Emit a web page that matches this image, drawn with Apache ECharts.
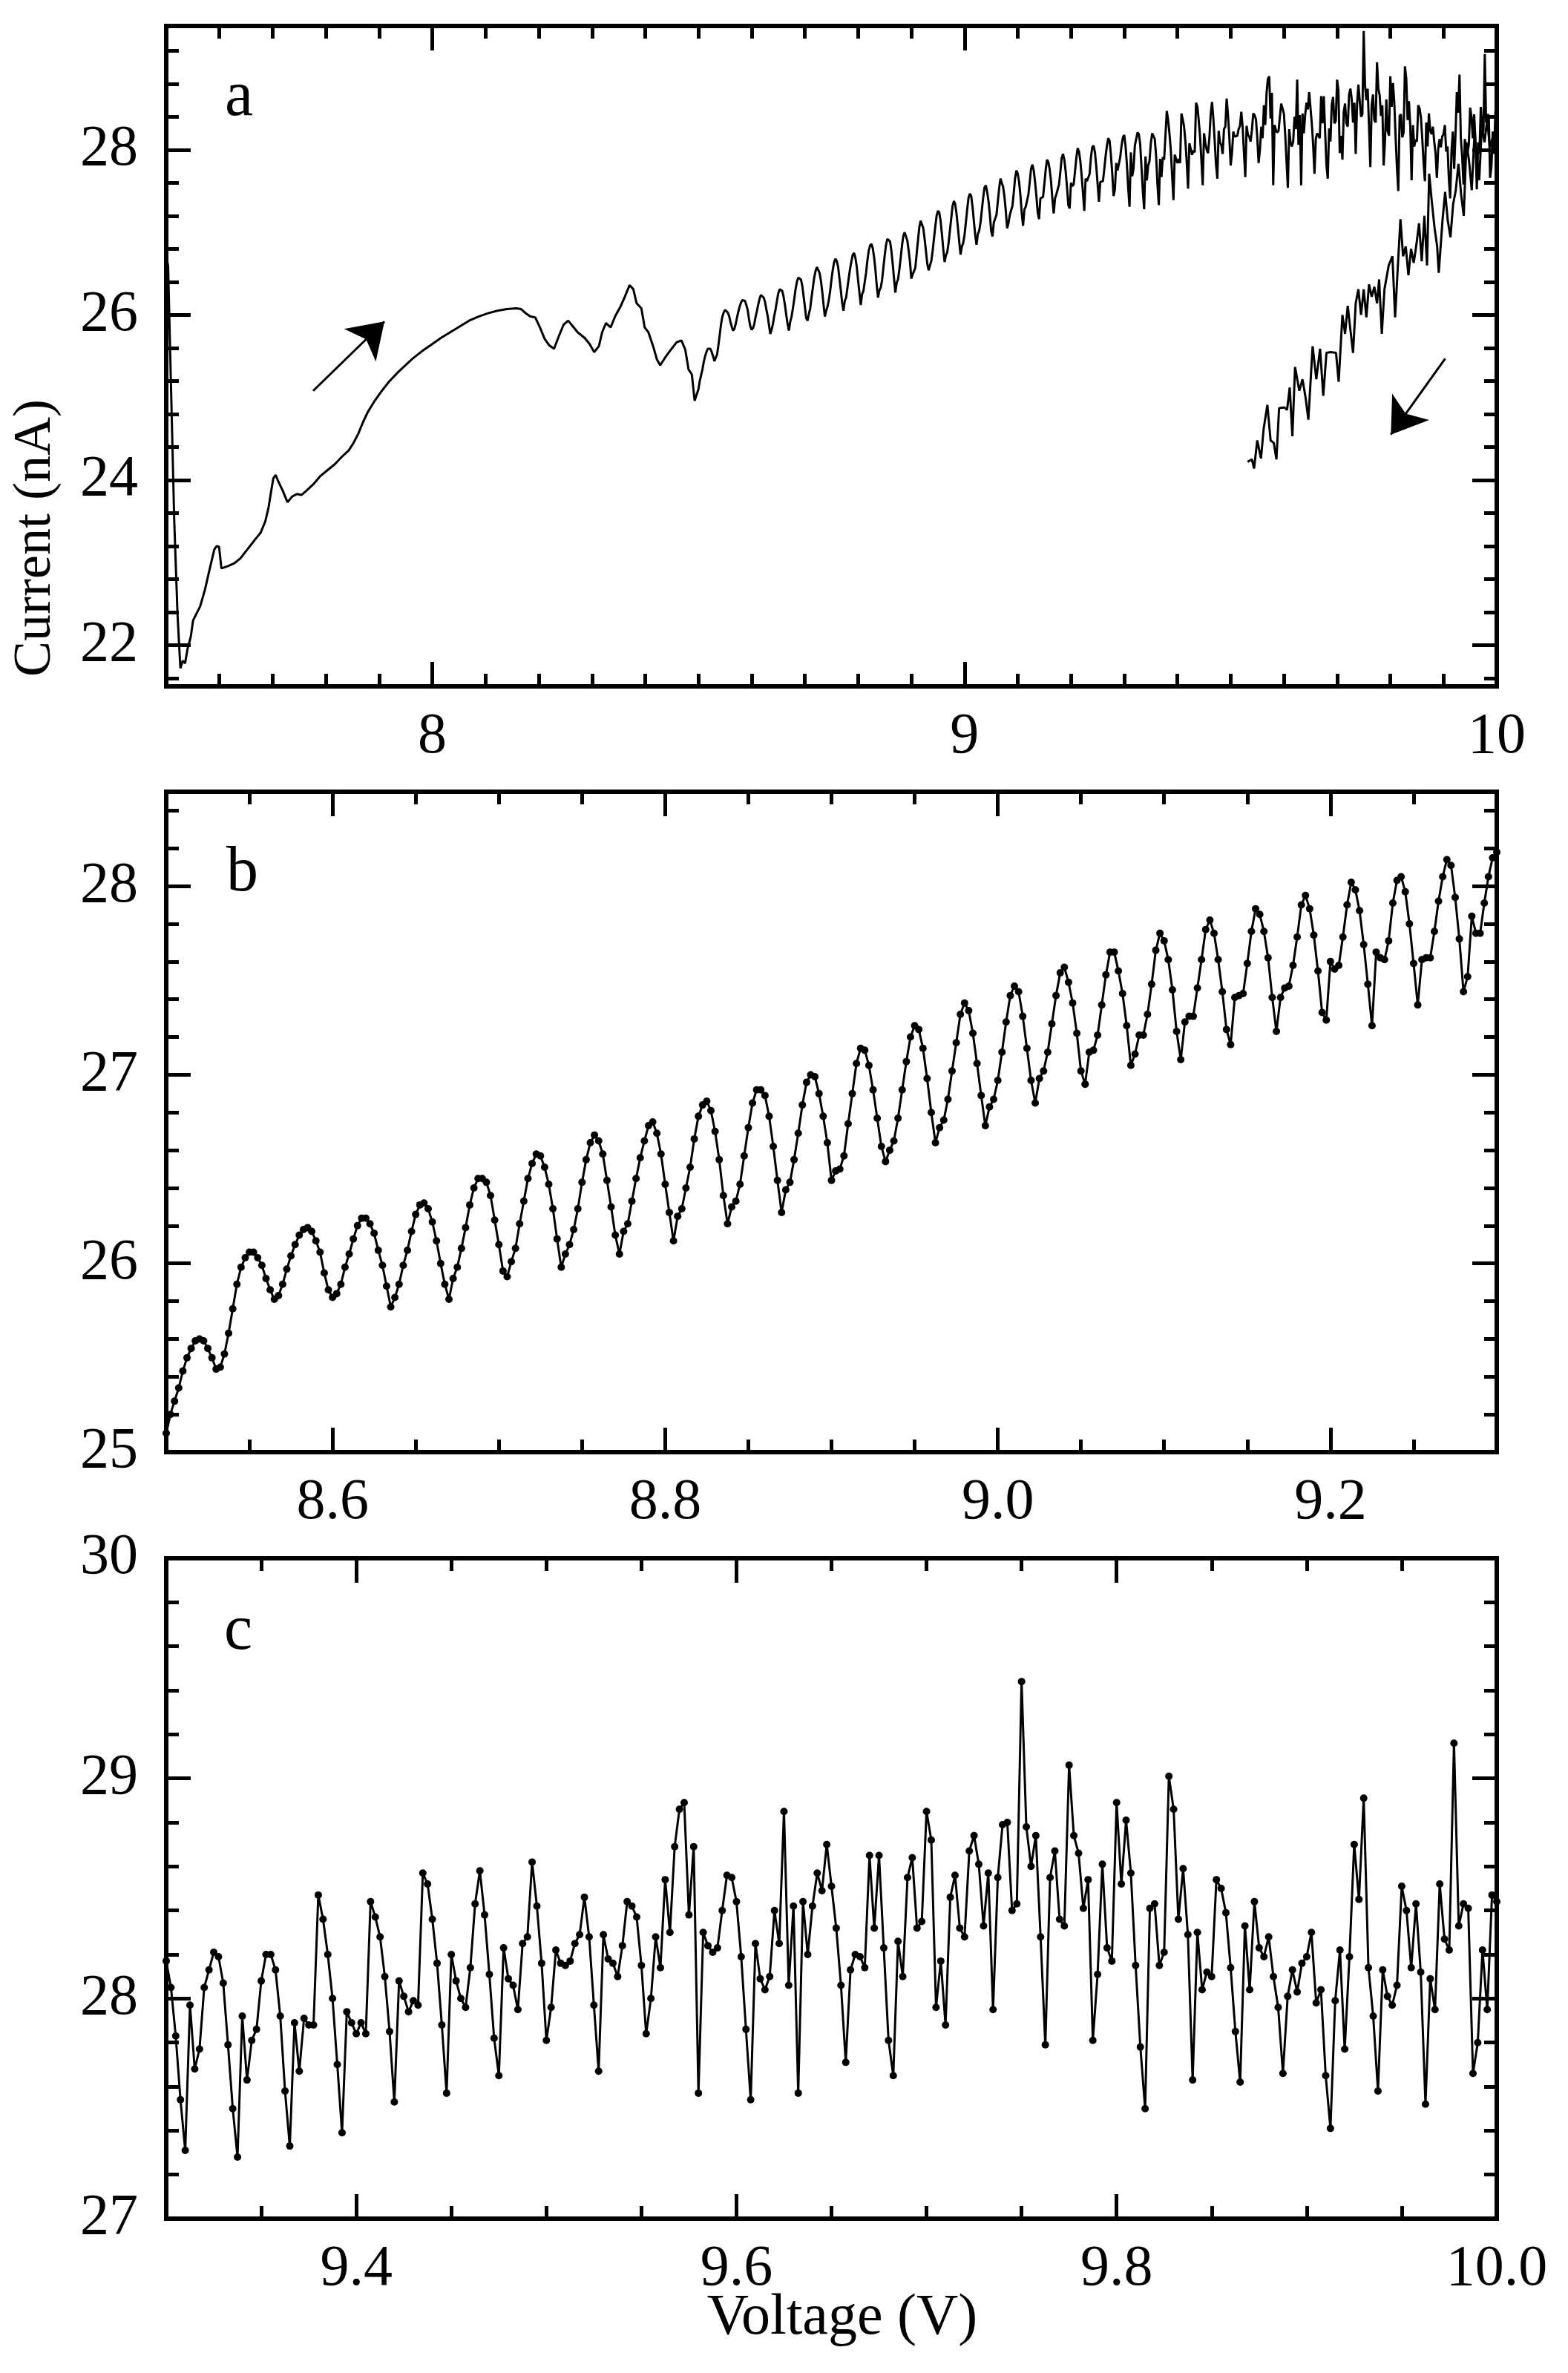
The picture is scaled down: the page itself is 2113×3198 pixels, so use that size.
<!DOCTYPE html>
<html>
<head>
<meta charset="utf-8">
<script src="https://cdn.jsdelivr.net/npm/echarts@6/dist/echarts.min.js"></script>
<style>
  html, body { margin: 0; padding: 0; background: #fff; }
  #chart { width: 2113px; height: 3198px; }
</style>
</head>
<body>
<div id="chart"></div>
<script>
// ====== Data ======
// panel a, up-sweep below 8.5 V: [voltage, current]
var aLowSweep = [
  [7.5000, 26.70], [7.5035, 26.60], [7.5151, 23.50], [7.5213, 22.36], [7.5266, 21.72],
  [7.5310, 21.81], [7.5355, 21.78], [7.5399, 21.95], [7.5461, 22.10], [7.5505, 22.30],
  [7.5567, 22.38], [7.5638, 22.47], [7.5727, 22.67], [7.5798, 22.87], [7.5860, 23.04],
  [7.5904, 23.16], [7.5949, 23.20], [7.5993, 23.19], [7.6037, 22.93], [7.6082, 22.94],
  [7.6170, 22.96], [7.6277, 22.99], [7.6392, 23.05], [7.6525, 23.16], [7.6658, 23.27],
  [7.6773, 23.36], [7.6862, 23.50], [7.6924, 23.67], [7.6968, 23.85], [7.7012, 24.02],
  [7.7057, 24.06], [7.7101, 23.99], [7.7190, 23.87], [7.7278, 23.73], [7.7367, 23.80],
  [7.7456, 23.83], [7.7544, 23.82], [7.7633, 23.87], [7.7766, 23.95], [7.7899, 24.05],
  [7.8032, 24.12], [7.8165, 24.19], [7.8298, 24.28], [7.8431, 24.36], [7.8520, 24.45],
  [7.8608, 24.56], [7.8697, 24.70], [7.8785, 24.82], [7.8918, 24.96], [7.9051, 25.08],
  [7.9184, 25.19], [7.9362, 25.31], [7.9495, 25.39], [7.9628, 25.47], [7.9805, 25.56],
  [7.9982, 25.64], [8.0160, 25.72], [8.0337, 25.79], [8.0514, 25.86], [8.0691, 25.93],
  [8.0869, 25.98], [8.1046, 26.02], [8.1223, 26.05], [8.1401, 26.07], [8.1578, 26.08],
  [8.1667, 26.07], [8.1755, 26.02], [8.1844, 25.98], [8.1933, 25.97], [8.2021, 25.85],
  [8.2110, 25.71], [8.2199, 25.63], [8.2287, 25.59], [8.2376, 25.74], [8.2465, 25.88],
  [8.2553, 25.93], [8.2642, 25.86], [8.2730, 25.79], [8.2863, 25.72], [8.2952, 25.65],
  [8.3041, 25.55], [8.3129, 25.62], [8.3191, 25.79], [8.3262, 25.90], [8.3351, 25.85],
  [8.3440, 25.99], [8.3528, 26.09], [8.3617, 26.22], [8.3706, 26.36], [8.3777, 26.31],
  [8.3839, 26.14], [8.3928, 26.08], [8.3989, 25.85], [8.4060, 25.79], [8.4149, 25.62],
  [8.4220, 25.46], [8.4282, 25.39], [8.4371, 25.48], [8.4459, 25.56], [8.4592, 25.67],
  [8.4681, 25.69], [8.4752, 25.58], [8.4814, 25.34], [8.4876, 25.28], [8.4929, 24.96]
];

// panel a, down-sweep (lower branch near 10 V): [voltage, current]
var aReturnSweep = [
  [9.532, 24.22], [9.540, 24.25], [9.544, 24.14], [9.550, 24.48], [9.557, 24.26],
  [9.562, 24.62], [9.569, 24.91], [9.575, 24.48], [9.581, 24.45], [9.586, 24.25],
  [9.591, 24.87], [9.601, 24.88], [9.606, 24.85], [9.611, 25.12], [9.616, 24.53],
  [9.621, 25.37], [9.629, 25.08], [9.635, 25.22], [9.641, 24.99], [9.646, 24.73],
  [9.654, 25.62], [9.661, 25.22], [9.668, 25.59], [9.674, 25.02], [9.680, 25.54],
  [9.688, 25.55], [9.698, 25.54], [9.703, 25.19], [9.710, 26.00], [9.715, 25.77],
  [9.720, 26.11], [9.725, 25.82], [9.730, 25.54], [9.735, 26.14], [9.740, 26.31],
  [9.745, 26.00], [9.750, 26.31], [9.755, 25.97], [9.760, 26.37], [9.765, 26.22],
  [9.770, 26.34], [9.775, 26.14], [9.779, 26.43], [9.784, 25.77], [9.789, 26.31],
  [9.797, 26.60], [9.804, 26.71], [9.809, 25.97], [9.814, 26.57], [9.819, 27.16],
  [9.824, 26.71], [9.829, 26.83], [9.834, 26.48], [9.839, 26.80], [9.844, 26.63],
  [9.849, 26.85], [9.854, 27.11], [9.859, 26.65], [9.864, 27.20], [9.869, 26.60],
  [9.873, 27.71], [9.878, 27.37], [9.883, 27.06], [9.888, 26.83], [9.891, 26.51],
  [9.898, 27.14], [9.903, 27.49], [9.908, 27.14], [9.913, 26.94], [9.918, 27.34],
  [9.923, 27.51], [9.928, 27.83], [9.933, 27.46], [9.938, 27.20], [9.943, 28.09],
  [9.948, 27.86], [9.953, 27.51], [9.958, 28.17], [9.963, 27.91], [9.967, 27.63],
  [9.972, 28.29], [9.977, 28.09], [9.982, 28.37], [9.987, 28.03], [9.992, 28.14],
  [9.997, 28.09]
];

// panel b: current every 2.5 mV from 8.5 V to 9.3 V
var bStartV = 8.5;
var bCurrent = [
  25.10, 25.20, 25.27, 25.34, 25.43, 25.50, 25.55, 25.59, 25.60, 25.59,
  25.55, 25.50, 25.44, 25.45, 25.52, 25.63, 25.76, 25.89, 25.98, 26.03,
  26.06, 26.06, 26.03, 25.99, 25.92, 25.86, 25.81, 25.83, 25.89, 25.97,
  26.04, 26.10, 26.15, 26.18, 26.19, 26.17, 26.12, 26.06, 25.95, 25.86,
  25.82, 25.84, 25.89, 25.98, 26.05, 26.13, 26.20, 26.24, 26.24, 26.21,
  26.16, 26.07, 25.99, 25.88, 25.77, 25.82, 25.89, 25.99, 26.07, 26.17,
  26.26, 26.31, 26.32, 26.29, 26.22, 26.12, 26.00, 25.89, 25.81, 25.92,
  25.98, 26.08, 26.19, 26.31, 26.40, 26.45, 26.45, 26.43, 26.36, 26.23,
  26.10, 25.96, 25.93, 26.01, 26.08, 26.21, 26.33, 26.45, 26.53, 26.58,
  26.57, 26.51, 26.42, 26.29, 26.13, 25.98, 26.05, 26.10, 26.18, 26.29,
  26.43, 26.55, 26.64, 26.68, 26.65, 26.58, 26.44, 26.30, 26.15, 26.05,
  26.17, 26.21, 26.33, 26.45, 26.56, 26.65, 26.73, 26.75,
  26.69, 26.58, 26.42, 26.27, 26.12, 26.25, 26.29, 26.40, 26.51, 26.66,
  26.78, 26.84, 26.86, 26.81, 26.70, 26.55, 26.36, 26.21, 26.30, 26.33,
  26.42, 26.57, 26.72, 26.85, 26.92, 26.92, 26.89, 26.78, 26.62, 26.44,
  26.27, 26.39, 26.43, 26.55, 26.69, 26.84, 26.96, 27.00, 26.99, 26.90,
  26.78, 26.64, 26.44, 26.49, 26.50, 26.57, 26.74, 26.90, 27.06, 27.14,
  27.13, 27.05, 26.92, 26.77, 26.62, 26.54, 26.60, 26.65, 26.77, 26.92,
  27.07, 27.20, 27.26, 27.24, 27.14, 26.98, 26.80, 26.64, 26.72, 26.76,
  26.87, 27.02, 27.17, 27.32, 27.38, 27.34, 27.22, 27.06, 26.89, 26.73,
  26.83, 26.87, 26.97, 27.12, 27.28, 27.42, 27.47, 27.44, 27.31, 27.14,
  26.97, 26.85, 26.98, 27.02, 27.12, 27.27, 27.42, 27.54,
  27.57, 27.49, 27.38, 27.22, 27.02, 26.95, 27.12, 27.13, 27.21, 27.37,
  27.53, 27.65, 27.65, 27.55, 27.43, 27.26, 27.05, 27.11, 27.21, 27.21,
  27.32, 27.48, 27.66, 27.75, 27.71, 27.61, 27.45, 27.23, 27.08, 27.28,
  27.31, 27.31, 27.46, 27.61, 27.77, 27.82, 27.75, 27.61, 27.44, 27.24,
  27.16, 27.41, 27.42, 27.43, 27.59, 27.76, 27.88, 27.85, 27.76, 27.62,
  27.41, 27.23, 27.41, 27.46, 27.47, 27.58, 27.73, 27.90, 27.95, 27.88,
  27.74, 27.55, 27.33, 27.29, 27.60, 27.56, 27.58, 27.73, 27.90, 28.02,
  27.98, 27.87, 27.69, 27.48, 27.26, 27.65, 27.62, 27.61, 27.71, 27.91,
  28.03, 28.05, 27.97, 27.80, 27.59, 27.37, 27.61, 27.62, 27.62, 27.76,
  27.92, 28.05, 28.14, 28.11, 27.94, 27.72, 27.44, 27.52, 27.84, 27.75,
  27.75, 27.91, 28.05, 28.15, 28.18
];

// panel c: current every 2.5 mV from 9.3 V to 10.0 V
var cStartV = 9.3;
var cCurrent = [
  28.17, 28.05, 27.83, 27.54, 27.31, 27.97, 27.68, 27.77, 28.05, 28.13,
  28.21, 28.19, 28.07, 27.79, 27.50, 27.28, 27.92, 27.63, 27.81, 27.86,
  28.08, 28.20, 28.20, 28.13, 27.92, 27.58, 27.33, 27.89, 27.67, 27.91,
  27.88, 27.88, 28.47, 28.36, 28.20, 28.00, 27.70, 27.39, 27.94, 27.89,
  27.84, 27.89, 27.84, 28.44, 28.37, 28.28, 28.10, 27.85, 27.53, 28.08,
  28.01, 27.94, 27.99, 27.97, 28.57, 28.52, 28.36, 28.16, 27.88, 27.57,
  28.20, 28.08, 28.00, 27.96, 28.14, 28.43, 28.58, 28.38, 28.11, 27.82,
  27.65, 28.23, 28.09, 28.06, 27.95, 28.25, 28.28, 28.62, 28.42, 28.16,
  27.81, 27.96, 28.22, 28.16, 28.15, 28.17, 28.25, 28.29, 28.46, 28.28,
  27.97, 27.67, 28.29, 28.18, 28.16, 28.10, 28.24, 28.44, 28.42, 28.37,
  28.15, 27.84, 28.00, 28.28, 28.14, 28.54, 28.30, 28.69, 28.86, 28.89,
  28.38, 28.69, 27.57, 28.30, 28.24, 28.21, 28.23, 28.40, 28.56, 28.55,
  28.44, 28.19, 27.86, 27.54, 28.25, 28.09, 28.04, 28.10, 28.40, 28.25,
  28.85, 28.06, 28.42, 27.57, 28.44, 28.20, 28.42, 28.57, 28.49, 28.70,
  28.51,
  28.32, 28.06, 27.71, 28.13, 28.20, 28.19, 28.14, 28.65, 28.32, 28.65,
  28.23, 27.81, 27.65, 28.26, 28.10, 28.55, 28.64, 28.32, 28.35, 28.85,
  28.72, 27.96, 28.17, 27.88, 28.46, 28.56, 28.32, 28.28, 28.67, 28.74,
  28.61, 28.33, 28.57, 27.95, 28.55, 28.79, 28.80, 28.40, 28.43, 29.44,
  28.78, 28.60, 28.74, 28.28, 27.79, 28.55, 28.67, 28.36, 28.33, 29.06,
  28.74, 28.66, 28.41, 28.54, 27.81, 28.11, 28.61, 28.23, 28.17, 28.89,
  28.52, 28.81, 28.57, 28.15, 27.78, 27.50, 28.41, 28.43, 28.15, 28.21,
  29.01, 28.86, 28.36, 28.59, 28.29, 27.63, 28.30, 28.04, 28.12, 28.10,
  28.54, 28.50, 28.39, 28.14, 27.85, 27.62, 28.33, 28.04, 28.44, 28.23,
  28.19, 28.28, 28.10, 27.96, 27.66, 28.01, 28.13, 28.03, 28.16, 28.19,
  28.30, 27.98, 28.04, 27.65, 27.41, 27.99, 28.22, 27.77, 28.19, 28.70,
  28.45, 28.91, 28.14, 27.92, 27.58, 28.13, 28.01, 27.97, 28.06, 28.51,
  28.40, 28.14, 28.43, 28.12, 27.52, 28.09, 27.95, 28.52, 28.27, 28.22,
  29.16, 28.33, 28.43, 28.41, 27.66, 27.80, 28.22, 27.95, 28.47, 28.44
];
var stepV = 0.0025;

// sweep-direction arrows in panel a: [tail, tip]
var arrowUp = [[7.776, 25.08], [7.910, 25.92]];
var arrowDown = [[9.903, 25.47], [9.801, 24.55]];

// tick labels
var aXMajor = [8, 9, 10];
var aYMajor = [22, 24, 26, 28];
var bXMajor = [8.6, 8.8, 9.0, 9.2];
var bYMajor = [25, 26, 27, 28];
var cXMajor = [9.4, 9.6, 9.8, 10.0];
var cYMajor = [27, 28, 29, 30];

// ====== Helpers ======
var FONT = "'Liberation Serif', 'Times New Roman', serif";
var INK = '#000';

function sampled(start, values) {
  return values.map(function(v, i) { return [+(start + i * stepV).toFixed(4), v]; });
}

function minorTicks(from, to, step) {
  var out = [];
  var n = Math.round((to - from) / step);
  for (var i = 0; i <= n; i++) out.push(+(from + i * step).toFixed(4));
  return out;
}

// labelled major + minor axis on the near side, mirrored copies on the far side
function makeAxes(dim, grid, min, max, major, minor, fmt) {
  var near = dim === 'x' ? 'bottom' : 'left';
  var far = dim === 'x' ? 'top' : 'right';
  var line = { show: true, onZero: false, lineStyle: { color: INK, width: 6, cap: 'square' } };
  function ax(pos, ticks, len, showLine, showLabel) {
    return {
      gridIndex: grid, type: 'value', position: pos, min: min, max: max,
      splitLine: { show: false },
      axisLine: showLine ? line : { show: false },
      axisTick: { show: true, inside: true, length: len, customValues: ticks,
                  lineStyle: { color: INK, width: 5 } },
      axisLabel: showLabel ? {
        show: true, customValues: major, formatter: fmt,
        margin: dim === 'x' ? 30 : 38,
        color: INK, fontSize: 78, fontFamily: FONT
      } : { show: false },
      axisPointer: { show: false }
    };
  }
  return [
    ax(near, major, 33, true, true),
    ax(near, minor, 17, false, false),
    ax(far, major, 33, true, false),
    ax(far, minor, 17, false, false)
  ];
}

var intFmt = function(v) { return String(Math.round(v)); };
var oneDec = function(v) { return v.toFixed(1); };

// ====== Series data ======
var bPoints = sampled(bStartV, bCurrent);
var cPoints = sampled(cStartV, cCurrent);
var aForward = aLowSweep.concat(bPoints, cPoints.slice(1));

var chart = echarts.init(document.getElementById('chart'), null, { renderer: 'canvas', devicePixelRatio: 1 });

var grids = [
  { left: 224, right: 96, top: 35, height: 890 },
  { left: 224, right: 96, top: 1067, height: 890 },
  { left: 224, right: 96, top: 2100, height: 890 }
];
grids.forEach(function(g) { g.outerBoundsMode = 'none'; g.containLabel = false; });

var xAxes = [].concat(
  makeAxes('x', 0, 7.5, 10, aXMajor, minorTicks(7.5, 10, 0.1), intFmt),
  makeAxes('x', 1, 8.5, 9.3, bXMajor, minorTicks(8.5, 9.3, 0.05), oneDec),
  makeAxes('x', 2, 9.3, 10.0, cXMajor, minorTicks(9.3, 10.0, 0.05), oneDec)
);
var yAxes = [].concat(
  makeAxes('y', 0, 21.5, 29.5, aYMajor, minorTicks(21.6, 29.2, 0.4), intFmt),
  makeAxes('y', 1, 25, 28.5, bYMajor, minorTicks(25, 28.4, 0.2), intFmt),
  makeAxes('y', 2, 27, 30, cYMajor, minorTicks(27, 30, 0.2), intFmt)
);

function arrowLine(pair) {
  return [{ coord: pair[0] }, { coord: pair[1] }];
}

chart.setOption({
  animation: false,
  backgroundColor: '#fff',
  grid: grids,
  xAxis: xAxes,
  yAxis: yAxes,
  series: [
    {
      name: 'a up', type: 'line', xAxisIndex: 0, yAxisIndex: 0,
      data: aForward, symbol: 'none', silent: true,
      lineStyle: { color: INK, width: 3 },
      markLine: {
        silent: true, animation: false,
        symbol: ['none', 'arrow'], symbolSize: 46,
        label: { show: false },
        lineStyle: { color: INK, width: 3, type: 'solid' },
        itemStyle: { color: INK },
        emphasis: { disabled: true },
        data: [arrowLine(arrowUp), arrowLine(arrowDown)]
      }
    },
    {
      name: 'a down', type: 'line', xAxisIndex: 0, yAxisIndex: 0,
      data: aReturnSweep, symbol: 'none', silent: true,
      lineStyle: { color: INK, width: 3 }
    },
    {
      name: 'b', type: 'line', xAxisIndex: 4, yAxisIndex: 4,
      data: bPoints, symbol: 'circle', symbolSize: 10, silent: true,
      lineStyle: { color: INK, width: 3 },
      itemStyle: { color: INK }
    },
    {
      name: 'c', type: 'line', xAxisIndex: 8, yAxisIndex: 8,
      data: cPoints, symbol: 'circle', symbolSize: 10, silent: true,
      lineStyle: { color: INK, width: 3 },
      itemStyle: { color: INK }
    }
  ],
  graphic: [
    { type: 'text', style: { text: 'a', x: 303, y: 175, font: '86px ' + FONT, fill: INK, textVerticalAlign: 'bottom' } },
    { type: 'text', style: { text: 'b', x: 305, y: 1220, font: '86px ' + FONT, fill: INK, textVerticalAlign: 'bottom' } },
    { type: 'text', style: { text: 'c', x: 302, y: 2242, font: '86px ' + FONT, fill: INK, textVerticalAlign: 'bottom' } },
    { type: 'text', x: 48, y: 725, rotation: Math.PI / 2,
      style: { text: 'Current (nA)', font: '72px ' + FONT, fill: INK, textAlign: 'center', textVerticalAlign: 'middle' } },
    { type: 'text', x: 1135, y: 3125,
      style: { text: 'Voltage (V)', font: '78px ' + FONT, fill: INK, textAlign: 'center', textVerticalAlign: 'middle' } }
  ]
});

window.addEventListener('resize', function() { chart.resize(); });
</script>
</body>
</html>
